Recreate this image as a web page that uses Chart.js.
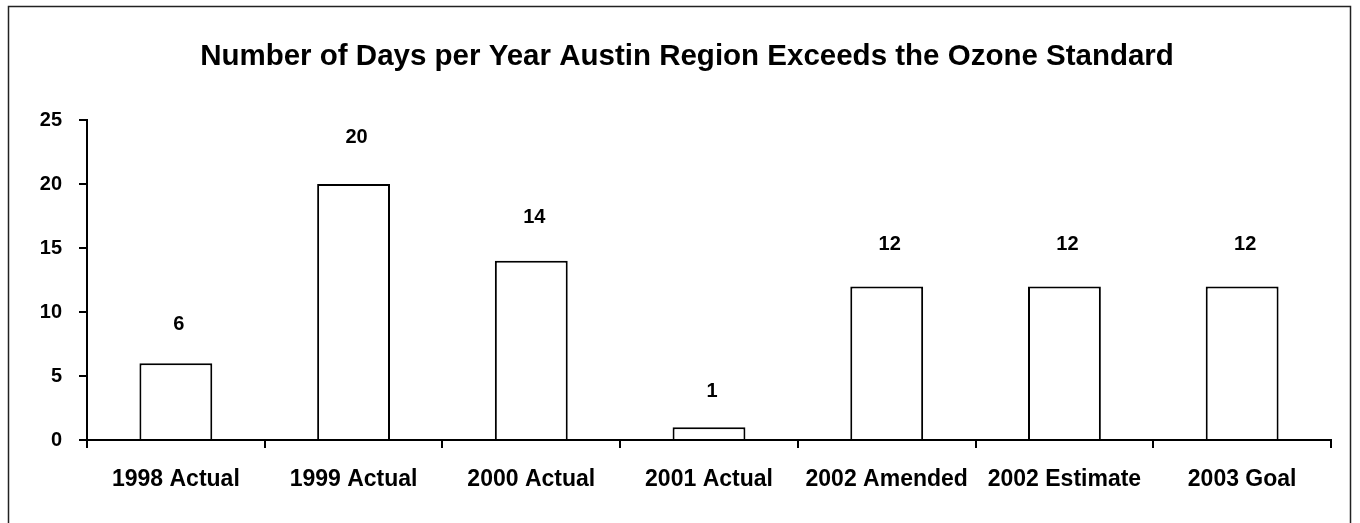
<!DOCTYPE html>
<html>
<head>
<meta charset="utf-8">
<title>Ozone Standard Exceedance Days</title>
<script src="https://cdn.jsdelivr.net/npm/chart.js@4/dist/chart.umd.min.js"></script>
<style>
  html, body { margin: 0; padding: 0; background: #fff; }
  canvas { display: block; }
</style>
</head>
<body>
<canvas id="chart" width="1360" height="523"></canvas>
<script>
/* ---- data ---- */
const TITLE = 'Number of Days per Year Austin Region Exceeds the Ozone Standard';
const categories = ['1998 Actual', '1999 Actual', '2000 Actual', '2001 Actual',
                    '2002 Amended', '2002 Estimate', '2003 Goal'];
const daysExceeded = [6, 20, 14, 1, 12, 12, 12];
const yTicks = [0, 5, 10, 15, 20, 25];

const FONT = '"Liberation Sans", Arial, sans-serif';

/* frame + title, drawn by hand */
const framePlugin = {
  id: 'frame',
  beforeDraw(chart) {
    const ctx = chart.ctx;
    ctx.save();
    ctx.fillStyle = '#fff';
    ctx.fillRect(0, 0, chart.width, chart.height);
    ctx.strokeStyle = '#222';
    ctx.lineWidth = 1.5;
    ctx.strokeRect(8.5, 6.5, 1342, 600);
    ctx.fillStyle = '#000';
    ctx.font = 'bold 29.5px ' + FONT;
    ctx.textAlign = 'center';
    ctx.textBaseline = 'middle';
    ctx.fillText(TITLE, 687, 57);
    ctx.restore();
  }
};

/* value labels above bars */
const valueLabels = {
  id: 'valueLabels',
  afterDatasetsDraw(chart) {
    const ctx = chart.ctx;
    const meta = chart.getDatasetMeta(0);
    ctx.save();
    ctx.fillStyle = '#000';
    ctx.font = 'bold 20px ' + FONT;
    ctx.textAlign = 'center';
    ctx.textBaseline = 'middle';
    meta.data.forEach((bar, i) => {
      const v = daysExceeded[i];
      ctx.fillText(String(v), bar.x + 3, bar.y - (35 + 0.6 * v));
    });
    ctx.restore();
  }
};

new Chart(document.getElementById('chart'), {
  type: 'bar',
  data: {
    labels: categories,
    datasets: [{
      data: daysExceeded,
      backgroundColor: '#fff',
      borderColor: '#000',
      borderWidth: 2,
      barPercentage: 0.41,
      categoryPercentage: 1
    }]
  },
  options: {
    responsive: false,
    animation: false,
    devicePixelRatio: 1,
    layout: { padding: { top: 120, right: 29, left: 0, bottom: 0 } },
    plugins: {
      legend: { display: false },
      title: { display: false },
      tooltip: { enabled: false }
    },
    scales: {
      x: {
        afterFit: s => { s.height = 83; },
        border: { display: true, color: '#000', width: 2 },
        grid: {
          offset: true,
          drawOnChartArea: false,
          drawTicks: true,
          tickLength: 8,
          color: '#000',
          lineWidth: 2
        },
        ticks: {
          color: '#000',
          padding: 18,
          maxRotation: 0,
          autoSkip: false,
          font: { family: FONT, size: 23, weight: 'bold' }
        }
      },
      y: {
        min: 0,
        max: 25,
        afterFit: s => { s.width = 87; },
        afterBuildTicks: s => { s.ticks = yTicks.map(v => ({ value: v })); },
        border: { display: true, color: '#000', width: 2 },
        grid: {
          drawOnChartArea: false,
          drawTicks: true,
          tickLength: 8,
          color: '#000',
          lineWidth: 2
        },
        ticks: {
          color: '#000',
          padding: 17,
          font: { family: FONT, size: 20, weight: 'bold' }
        }
      }
    }
  },
  plugins: [framePlugin, valueLabels]
});
</script>
</body>
</html>
